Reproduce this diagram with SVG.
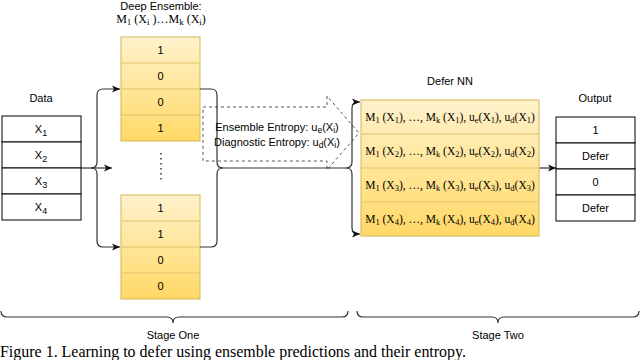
<svg xmlns="http://www.w3.org/2000/svg" width="640" height="360" viewBox="0 0 640 360">
<style>
.sans{font-family:"Liberation Sans",Arial,sans-serif;font-size:11px;fill:#000}
.serif{font-family:"Liberation Serif","Times New Roman",serif;fill:#000}
.mid{text-anchor:middle}
.cell{fill:#fff;stroke:#000;stroke-width:1}
.ybox{fill:url(#yel);stroke:#d6b656;stroke-width:1}
.ysep{stroke:#e0c26a;stroke-width:1}
.conn{fill:none;stroke:#333;stroke-width:1.2}
.dash{fill:none;stroke:#555;stroke-width:1;stroke-dasharray:3 3}
</style>
<defs>
<linearGradient id="yel" x1="0" y1="0" x2="0" y2="1">
<stop offset="0" stop-color="#fff2cc"/>
<stop offset="1" stop-color="#ffd966"/>
</linearGradient>
<marker id="arr" markerWidth="9" markerHeight="8" refX="8" refY="4" orient="auto" markerUnits="userSpaceOnUse">
<path d="M0,0.5 L8,4 L0,7.5 L2,4 z" fill="#111"/>
</marker>
</defs>

<g id="data">
<text class="sans mid" x="41" y="101.5">Data</text>
<rect class="cell" x="2" y="116" width="79" height="26"/>
<rect class="cell" x="2" y="142" width="79" height="26"/>
<rect class="cell" x="2" y="168" width="79" height="26"/>
<rect class="cell" x="2" y="194" width="79" height="26"/>
<text class="sans mid" x="41" y="133" font-size="12">X<tspan font-size="9" dy="3">1</tspan></text>
<text class="sans mid" x="41" y="159" font-size="12">X<tspan font-size="9" dy="3">2</tspan></text>
<text class="sans mid" x="41" y="185" font-size="12">X<tspan font-size="9" dy="3">3</tspan></text>
<text class="sans mid" x="41" y="211" font-size="12">X<tspan font-size="9" dy="3">4</tspan></text>
</g>

<g id="ensemble-label">
<text class="sans mid" x="161" y="10">Deep Ensemble:</text>
<text class="serif mid" x="161" y="23" font-size="12">M<tspan font-size="9" dy="2">1</tspan><tspan dy="-2"> (X</tspan><tspan font-size="9" dy="2">i</tspan><tspan dy="-2"> )…M</tspan><tspan font-size="9" dy="2">k</tspan><tspan dy="-2"> (X</tspan><tspan font-size="9" dy="2">i</tspan><tspan dy="-2">)</tspan></text>
</g>

<g id="ensemble-top">
<rect class="ybox" x="121" y="37" width="79" height="104"/>
<line class="ysep" x1="121.5" y1="63" x2="199.5" y2="63"/>
<line class="ysep" x1="121.5" y1="89" x2="199.5" y2="89"/>
<line class="ysep" x1="121.5" y1="115" x2="199.5" y2="115"/>
<text class="sans mid" x="160.5" y="54">1</text>
<text class="sans mid" x="160.5" y="80">0</text>
<text class="sans mid" x="160.5" y="106">0</text>
<text class="sans mid" x="160.5" y="132">1</text>
</g>

<g id="ensemble-dots">
<line x1="161" y1="153" x2="161" y2="183" stroke="#333" stroke-width="1.5" stroke-dasharray="1.5 3.5"/>
</g>

<g id="ensemble-bottom">
<rect class="ybox" x="121" y="195" width="79" height="104"/>
<line class="ysep" x1="121.5" y1="221" x2="199.5" y2="221"/>
<line class="ysep" x1="121.5" y1="247" x2="199.5" y2="247"/>
<line class="ysep" x1="121.5" y1="273" x2="199.5" y2="273"/>
<text class="sans mid" x="160.5" y="212">1</text>
<text class="sans mid" x="160.5" y="238">1</text>
<text class="sans mid" x="160.5" y="264">0</text>
<text class="sans mid" x="160.5" y="290">0</text>
</g>

<g id="entropy-arrow">
<polygon class="dash" points="203,107 327,107 327,96 359,133 327,170 327,161 203,161"/>
</g>

<g id="connectors">
<path class="conn" d="M81,168 H112" marker-end="url(#arr)"/>
<path class="conn" d="M91,168 Q97,168 97,162 V95 Q97,89 103,89 H120" marker-end="url(#arr)"/>
<path class="conn" d="M91,168 Q97,168 97,174 V241 Q97,247 103,247 H120" marker-end="url(#arr)"/>
<path class="conn" d="M200,89 H211 Q217,89 217,95 V162 Q217,168 223,168"/>
<path class="conn" d="M200,247 H211 Q217,247 217,241 V174 Q217,168 223,168"/>
<path class="conn" d="M223,168 H346"/>
<path class="conn" d="M346,168 Q352,168 352,162 V108 Q352,102 358,102 H360" marker-end="url(#arr)"/>
<path class="conn" d="M346,168 Q352,168 352,174 V228 Q352,234 358,234 H360" marker-end="url(#arr)"/>
<path class="conn" d="M539,168 H556" marker-end="url(#arr)"/>
</g>

<g id="entropy-label">
<text class="sans mid" x="277" y="131" font-size="10.5">Ensemble Entropy: u<tspan font-size="8.5" dy="2">e</tspan><tspan dy="-2">(X</tspan><tspan font-size="8.5" dy="2">i</tspan><tspan dy="-2">)</tspan></text>
<text class="sans mid" x="277" y="146" font-size="10.5">Diagnostic Entropy: u<tspan font-size="8.5" dy="2">d</tspan><tspan dy="-2">(X</tspan><tspan font-size="8.5" dy="2">i</tspan><tspan dy="-2">)</tspan></text>
</g>

<g id="defer-nn">
<text class="sans mid" x="450" y="85">Defer NN</text>
<rect class="ybox" x="361" y="100" width="178" height="136"/>
<line class="ysep" x1="361.5" y1="134" x2="538.5" y2="134"/>
<line class="ysep" x1="361.5" y1="168" x2="538.5" y2="168"/>
<line class="ysep" x1="361.5" y1="202" x2="538.5" y2="202"/>
<text class="serif mid" x="450" y="121" font-size="11.5">M<tspan font-size="8.5" dy="2">1</tspan><tspan dy="-2"> (X</tspan><tspan font-size="8.5" dy="2">1</tspan><tspan dy="-2">), …, M</tspan><tspan font-size="8.5" dy="2">k</tspan><tspan dy="-2"> (X</tspan><tspan font-size="8.5" dy="2">1</tspan><tspan dy="-2">), u</tspan><tspan font-size="8.5" dy="2">e</tspan><tspan dy="-2">(X</tspan><tspan font-size="8.5" dy="2">1</tspan><tspan dy="-2">), u</tspan><tspan font-size="8.5" dy="2">d</tspan><tspan dy="-2">(X</tspan><tspan font-size="8.5" dy="2">1</tspan><tspan dy="-2">)</tspan></text>
<text class="serif mid" x="450" y="155" font-size="11.5">M<tspan font-size="8.5" dy="2">1</tspan><tspan dy="-2"> (X</tspan><tspan font-size="8.5" dy="2">2</tspan><tspan dy="-2">), …, M</tspan><tspan font-size="8.5" dy="2">k</tspan><tspan dy="-2"> (X</tspan><tspan font-size="8.5" dy="2">2</tspan><tspan dy="-2">), u</tspan><tspan font-size="8.5" dy="2">e</tspan><tspan dy="-2">(X</tspan><tspan font-size="8.5" dy="2">2</tspan><tspan dy="-2">), u</tspan><tspan font-size="8.5" dy="2">d</tspan><tspan dy="-2">(X</tspan><tspan font-size="8.5" dy="2">2</tspan><tspan dy="-2">)</tspan></text>
<text class="serif mid" x="450" y="189" font-size="11.5">M<tspan font-size="8.5" dy="2">1</tspan><tspan dy="-2"> (X</tspan><tspan font-size="8.5" dy="2">3</tspan><tspan dy="-2">), …, M</tspan><tspan font-size="8.5" dy="2">k</tspan><tspan dy="-2"> (X</tspan><tspan font-size="8.5" dy="2">3</tspan><tspan dy="-2">), u</tspan><tspan font-size="8.5" dy="2">e</tspan><tspan dy="-2">(X</tspan><tspan font-size="8.5" dy="2">3</tspan><tspan dy="-2">), u</tspan><tspan font-size="8.5" dy="2">d</tspan><tspan dy="-2">(X</tspan><tspan font-size="8.5" dy="2">3</tspan><tspan dy="-2">)</tspan></text>
<text class="serif mid" x="450" y="223" font-size="11.5">M<tspan font-size="8.5" dy="2">1</tspan><tspan dy="-2"> (X</tspan><tspan font-size="8.5" dy="2">4</tspan><tspan dy="-2">), …, M</tspan><tspan font-size="8.5" dy="2">k</tspan><tspan dy="-2"> (X</tspan><tspan font-size="8.5" dy="2">4</tspan><tspan dy="-2">), u</tspan><tspan font-size="8.5" dy="2">e</tspan><tspan dy="-2">(X</tspan><tspan font-size="8.5" dy="2">4</tspan><tspan dy="-2">), u</tspan><tspan font-size="8.5" dy="2">d</tspan><tspan dy="-2">(X</tspan><tspan font-size="8.5" dy="2">4</tspan><tspan dy="-2">)</tspan></text>
</g>

<g id="output">
<text class="sans mid" x="595" y="101.5">Output</text>
<rect class="cell" x="556" y="117" width="79" height="26"/>
<rect class="cell" x="556" y="143" width="79" height="26"/>
<rect class="cell" x="556" y="169" width="79" height="26"/>
<rect class="cell" x="556" y="195" width="79" height="26"/>
<text class="sans mid" x="595.5" y="134">1</text>
<text class="sans mid" x="595.5" y="160">Defer</text>
<text class="sans mid" x="595.5" y="186">0</text>
<text class="sans mid" x="595.5" y="212">Defer</text>
</g>

<g id="stage-one">
<path class="conn" d="M1,311 Q1,317 7,317 H167 Q173,317 173,323 Q173,317 179,317 H342 Q348,317 348,311"/>
<text class="sans mid" x="173" y="339">Stage One</text>
</g>

<g id="stage-two">
<path class="conn" d="M357,311 Q357,317 363,317 H492 Q498,317 498,323 Q498,317 504,317 H633 Q639,317 639,311"/>
<text class="sans mid" x="498" y="339">Stage Two</text>
</g>

<text class="serif" x="0" y="357" font-size="16" textLength="466" lengthAdjust="spacingAndGlyphs">Figure 1. Learning to defer using ensemble predictions and their entropy.</text>
</svg>
